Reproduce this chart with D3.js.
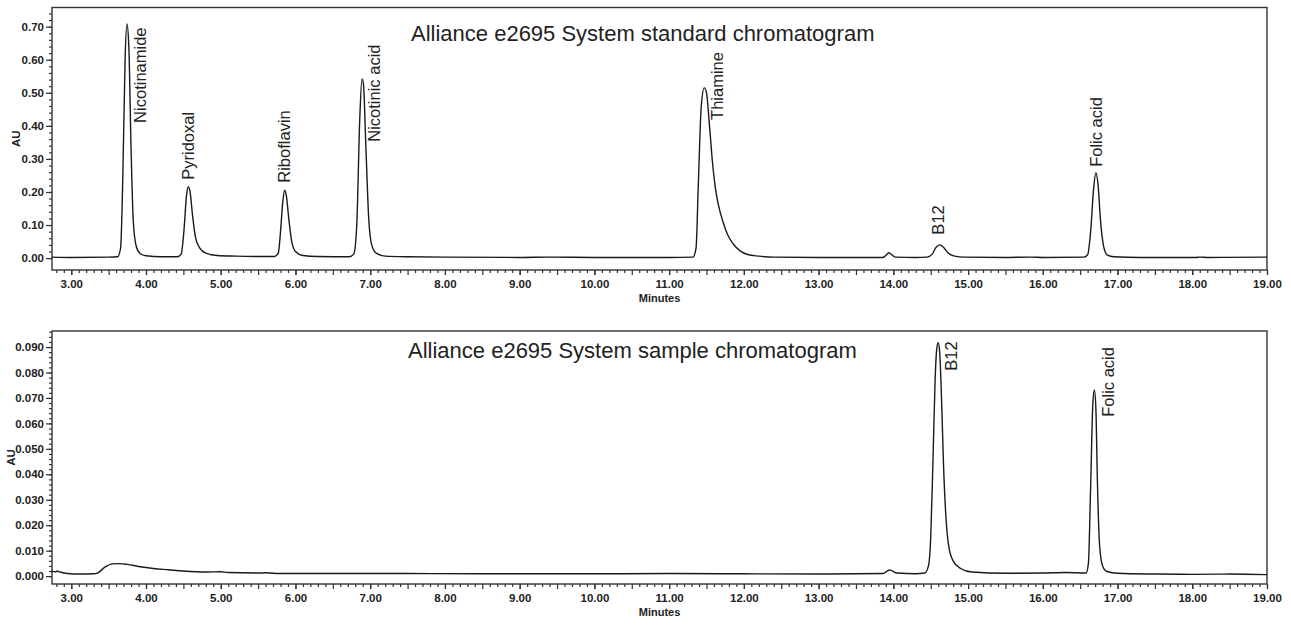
<!DOCTYPE html>
<html>
<head>
<meta charset="utf-8">
<script src="https://cdn.jsdelivr.net/npm/d3@7"></script>
<style>
  body { margin: 0; background: #fff; }
  text { font-family: "Liberation Sans", Arial, sans-serif; fill: #222; }
</style>
</head>
<body>
<svg id="chart" width="1291" height="628"></svg>
<script>
// standard chromatogram trace, [minutes, AU]
const standardTrace = [
  [2.74, 0.003], [3.0, 0.002], [3.5, 0.003], [3.62, 0.004], [3.66, 0.03], [3.69, 0.25], [3.72, 0.6],
  [3.745, 0.708], [3.77, 0.64], [3.80, 0.33], [3.83, 0.11], [3.87, 0.035], [3.92, 0.014], [4.0, 0.007],
  [4.2, 0.004], [4.42, 0.004], [4.47, 0.012], [4.51, 0.09], [4.54, 0.185], [4.565, 0.216], [4.59, 0.2],
  [4.62, 0.135], [4.66, 0.065], [4.72, 0.03], [4.8, 0.015], [4.95, 0.008], [5.2, 0.006], [5.5, 0.005],
  [5.72, 0.005], [5.77, 0.015], [5.80, 0.08], [5.83, 0.17], [5.855, 0.205], [5.88, 0.185], [5.91, 0.12],
  [5.95, 0.05], [6.0, 0.02], [6.1, 0.008], [6.3, 0.005], [6.72, 0.004], [6.78, 0.012], [6.82, 0.1],
  [6.86, 0.42], [6.89, 0.542], [6.91, 0.525], [6.94, 0.35], [6.98, 0.12], [7.02, 0.04], [7.08, 0.015],
  [7.2, 0.006], [7.5, 0.004], [8.0, 0.003], [9.0, 0.002], [9.4, 0.003], [10.0, 0.002], [11.0, 0.002],
  [11.32, 0.003], [11.36, 0.03], [11.39, 0.22], [11.43, 0.46], [11.47, 0.515], [11.50, 0.50],
  [11.54, 0.40], [11.58, 0.29], [11.62, 0.21], [11.66, 0.16], [11.72, 0.11], [11.78, 0.072],
  [11.86, 0.042], [11.95, 0.022], [12.05, 0.011], [12.2, 0.006], [12.4, 0.003], [13.0, 0.002],
  [13.5, 0.002], [13.86, 0.002], [13.9, 0.008], [13.94, 0.016], [13.98, 0.01], [14.03, 0.003],
  [14.3, 0.002], [14.45, 0.003], [14.52, 0.012], [14.57, 0.032], [14.62, 0.040], [14.67, 0.033],
  [14.73, 0.016], [14.82, 0.006], [14.95, 0.003], [15.5, 0.002], [15.85, 0.003], [16.0, 0.002],
  [16.55, 0.003], [16.6, 0.01], [16.64, 0.08], [16.68, 0.21], [16.71, 0.258], [16.74, 0.22],
  [16.77, 0.12], [16.81, 0.04], [16.86, 0.01], [16.95, 0.004], [17.3, 0.002], [18.05, 0.002],
  [18.1, 0.003], [18.2, 0.002], [19.0, 0.003]
];

// sample chromatogram trace, [minutes, AU]
const sampleTrace = [
  [2.74, 0.0021], [2.78, 0.0017], [2.82, 0.0019], [2.86, 0.0015], [2.95, 0.0010], [3.1, 0.0008],
  [3.3, 0.0009], [3.35, 0.0012], [3.45, 0.0035], [3.55, 0.0048], [3.65, 0.0049], [3.75, 0.0046],
  [3.9, 0.0038], [4.1, 0.0030], [4.3, 0.0025], [4.5, 0.0020], [4.8, 0.0016], [5.0, 0.0017],
  [5.1, 0.0014], [5.5, 0.0012], [5.6, 0.0013], [5.8, 0.0010], [6.5, 0.0010], [7.5, 0.0010],
  [8.5, 0.0009], [10.0, 0.0009], [11.0, 0.0010], [12.0, 0.0009], [13.0, 0.0008], [13.5, 0.0009],
  [13.86, 0.0010], [13.95, 0.0024], [14.05, 0.0012], [14.3, 0.0009], [14.42, 0.0012], [14.47, 0.004],
  [14.50, 0.015], [14.53, 0.045], [14.56, 0.078], [14.58, 0.089], [14.60, 0.0917], [14.62, 0.088],
  [14.65, 0.065], [14.67, 0.045], [14.70, 0.025], [14.74, 0.012], [14.8, 0.006], [14.9, 0.003],
  [15.05, 0.0016], [15.5, 0.0011], [16.0, 0.0012], [16.3, 0.0014], [16.58, 0.0012], [16.61, 0.005],
  [16.64, 0.035], [16.67, 0.068], [16.69, 0.0731], [16.71, 0.066], [16.73, 0.038], [16.76, 0.012],
  [16.80, 0.004], [16.86, 0.0018], [17.0, 0.0011], [17.5, 0.0008], [18.0, 0.0007], [18.5, 0.0008],
  [19.0, 0.0006]
];

// peak names and where their labels start (minutes, AU)
const standardPeaks = ["Nicotinamide", "Pyridoxal", "Riboflavin", "Nicotinic acid", "Thiamine", "B12", "Folic acid"];
const standardLabelTime = [3.92, 4.56, 5.85, 7.06, 11.65, 14.60, 16.71];
const standardLabelAU = [0.409, 0.237, 0.228, 0.352, 0.418, 0.071, 0.276];

const samplePeaks = ["B12", "Folic acid"];
const sampleLabelTime = [14.78, 16.87];
const sampleLabelAU = [0.0807, 0.0626];

// axis ticks
const minuteTicks = [3, 4, 5, 6, 7, 8, 9, 10, 11, 12, 13, 14, 15, 16, 17, 18, 19];
const standardYTicks = [0, 0.1, 0.2, 0.3, 0.4, 0.5, 0.6, 0.7];
const sampleYTicks = [0, 0.01, 0.02, 0.03, 0.04, 0.05, 0.06, 0.07, 0.08, 0.09];

const svg = d3.select("#chart");
const left = 52, right = 1267;

const x = d3.scaleLinear().domain([2.742, 19.0]).range([left, right]);

function drawPanel(p) {
  const g = svg.append("g");
  const y = d3.scaleLinear().domain(p.yDomain).range([p.bottom, p.top]);

  // minor ticks on x
  const minorX = d3.range(28, 191).map(d => d / 10);
  g.append("g")
    .attr("transform", `translate(0,${p.bottom})`)
    .call(d3.axisBottom(x).tickValues(minorX.filter(d => Math.round(d * 10) % 5 !== 0)).tickSize(3).tickFormat(""))
    .call(a => a.select(".domain").remove());
  g.append("g")
    .attr("transform", `translate(0,${p.bottom})`)
    .call(d3.axisBottom(x).tickValues(minorX.filter(d => Math.round(d * 10) % 5 === 0)).tickSize(5).tickFormat(""))
    .call(a => a.select(".domain").remove());
  const xa = g.append("g")
    .attr("transform", `translate(0,${p.bottom})`)
    .call(d3.axisBottom(x).tickValues(minuteTicks).tickSize(5).tickPadding(5).tickFormat(d3.format(".2f")));
  xa.select(".domain").remove();
  xa.selectAll("text").attr("font-size", 11.5).attr("font-weight", "bold").style("font-family", "'Liberation Sans', Arial, sans-serif");

  // minor ticks on y
  const minorY = d3.range(Math.ceil(p.yDomain[0] / p.minorStep), Math.floor(p.yDomain[1] / p.minorStep) + 1)
    .map(i => i * p.minorStep).filter(v => v >= 0);
  g.append("g")
    .attr("transform", `translate(${left},0)`)
    .call(d3.axisLeft(y).tickValues(minorY).tickSize(3).tickFormat(""))
    .call(a => a.select(".domain").remove());
  const ya = g.append("g")
    .attr("transform", `translate(${left},0)`)
    .call(d3.axisLeft(y).tickValues(p.yTicks).tickSize(6).tickPadding(2).tickFormat(d3.format(p.fmt)));
  ya.select(".domain").remove();
  ya.selectAll("text").attr("font-size", 11.5).attr("font-weight", "bold").style("font-family", "'Liberation Sans', Arial, sans-serif");

  g.selectAll(".tick line").attr("stroke", "#333").attr("stroke-width", 1.2);

  // frame
  g.append("rect")
    .attr("x", left).attr("y", p.top)
    .attr("width", right - left).attr("height", p.bottom - p.top)
    .attr("fill", "none").attr("stroke", "#333").attr("stroke-width", 1.4);

  // trace
  const line = d3.line()
    .x(d => x(d[0]))
    .y(d => y(d[1]))
    .curve(d3.curveMonotoneX);
  g.append("path")
    .datum(p.trace)
    .attr("fill", "none")
    .attr("stroke", "#1a1a1a")
    .attr("stroke-width", 1.4)
    .attr("stroke-linejoin", "round")
    .attr("d", line);

  // peak labels
  p.names.forEach((name, i) => {
    const lx = x(p.labelTime[i]), ly = y(p.labelAU[i]);
    g.append("text")
      .attr("transform", `translate(${lx},${ly}) rotate(-90)`)
      .attr("dy", "0.35em")
      .attr("font-size", 16.5)
      .text(name);
  });

  // title
  g.append("text")
    .attr("x", p.titleX).attr("y", p.titleY)
    .attr("font-size", 22)
    .text(p.title);

  // axis titles
  g.append("text")
    .attr("transform", `translate(${p.auX},${(p.top + p.bottom) / 2}) rotate(-90)`)
    .attr("text-anchor", "middle")
    .attr("dy", "0.35em")
    .attr("font-size", 11.5).attr("font-weight", "bold")
    .text("AU");
  g.append("text")
    .attr("x", (left + right) / 2).attr("y", p.bottom + 32)
    .attr("text-anchor", "middle")
    .attr("font-size", 11).attr("font-weight", "bold")
    .text("Minutes");
}

drawPanel({
  top: 7.5, bottom: 270, yDomain: [-0.036, 0.758], minorStep: 0.02,
  yTicks: standardYTicks, fmt: ".2f", trace: standardTrace,
  names: standardPeaks, labelTime: standardLabelTime, labelAU: standardLabelAU,
  title: "Alliance e2695 System standard chromatogram", titleX: 411, titleY: 41, auX: 16
});

drawPanel({
  top: 331, bottom: 584, yDomain: [-0.0031, 0.0963], minorStep: 0.002,
  yTicks: sampleYTicks, fmt: ".3f", trace: sampleTrace,
  names: samplePeaks, labelTime: sampleLabelTime, labelAU: sampleLabelAU,
  title: "Alliance e2695 System sample chromatogram", titleX: 408, titleY: 358, auX: 11
});
</script>
</body>
</html>
